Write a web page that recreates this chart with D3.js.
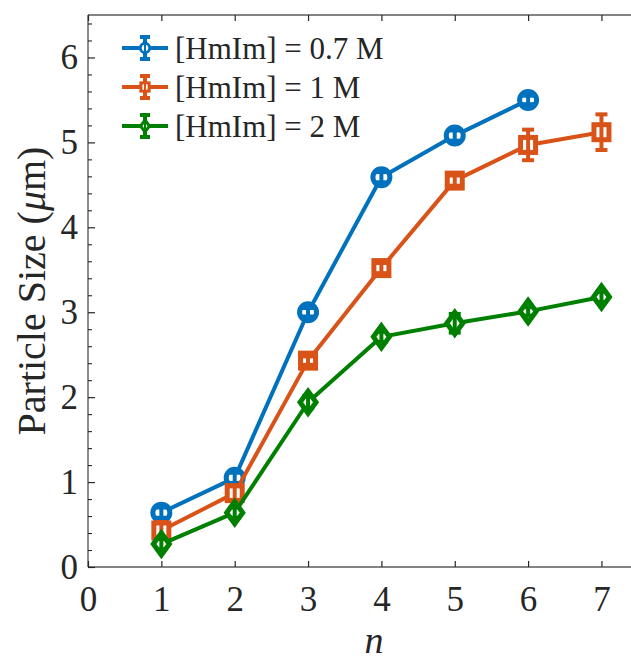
<!DOCTYPE html>
<html>
<head>
<meta charset="utf-8">
<script src="https://cdn.jsdelivr.net/npm/d3@7"></script>
<style>
  html, body { margin: 0; padding: 0; background: #fff; }
  svg { display: block; }
  svg text { font-family: "Liberation Serif", "Tinos", "Nimbus Roman", "DejaVu Serif", serif; fill: #262626; }
</style>
</head>
<body>
<svg id="chart" width="631" height="662"></svg>
<script>
// Particle size vs n for three HmIm concentrations
const nValues = [1, 2, 3, 4, 5, 6, 7];
const seriesNames = ["[HmIm] = 0.7 M", "[HmIm] = 1 M", "[HmIm] = 2 M"];
const size07 = [0.64, 1.05, 3.00, 4.59, 5.08, 5.50];
const err07  = [0.06, 0.06, 0.05, 0.06, 0.06, 0.05];
const size1  = [0.43, 0.87, 2.43, 3.52, 4.55, 4.97, 5.12];
const err1   = [0.10, 0.08, 0.05, 0.06, 0.06, 0.18, 0.21];
const size2  = [0.27, 0.64, 1.94, 2.71, 2.87, 3.01, 3.18];
const err2   = [0.06, 0.06, 0.07, 0.06, 0.11, 0.05, 0.06];
const xTicks = [0, 1, 2, 3, 4, 5, 6, 7];
const yTicks = [0, 1, 2, 3, 4, 5, 6];
const seriesColors = ["#0072BD", "#D95319", "#008000"];
const seriesMarkers = ["circle", "square", "diamond"];

const series = [
  { name: seriesNames[0], y: size07, e: err07 },
  { name: seriesNames[1], y: size1, e: err1 },
  { name: seriesNames[2], y: size2, e: err2 }
].map((s, i) => ({
  ...s,
  color: seriesColors[i],
  marker: seriesMarkers[i],
  pts: s.y.map((v, j) => ({ x: nValues[j], y: v, e: s.e[j] }))
}));

const FONT = "'Liberation Serif', Tinos, 'Nimbus Roman', 'DejaVu Serif', serif";
const svg = d3.select("#chart");
const plotLeft = 88, plotTop = 15, plotBottom = 567;
const x = d3.scaleLinear().domain([0, 7.5]).range([plotLeft, plotLeft + 7.5 * 73.35]);
const y = d3.scaleLinear().domain([0, 6.5]).range([plotBottom, plotTop]);
const plotRight = x.range()[1];

const axisColor = "#5a5a5a";

// Frame lines (left, bottom, top; right edge lies beyond the canvas)
const frame = svg.append("g").attr("stroke", axisColor).attr("stroke-width", 1.4).attr("fill", "none");
frame.append("line").attr("x1", plotLeft).attr("x2", plotRight).attr("y1", plotBottom).attr("y2", plotBottom);
frame.append("line").attr("x1", plotLeft).attr("x2", plotRight).attr("y1", plotTop).attr("y2", plotTop);
frame.append("line").attr("x1", plotLeft).attr("x2", plotLeft).attr("y1", plotTop).attr("y2", plotBottom);

// Bottom axis
const xAxis = svg.append("g").attr("transform", `translate(0,${plotBottom})`)
  .call(d3.axisBottom(x).tickValues(xTicks).tickFormat(d3.format("d")).tickSizeInner(-6).tickSizeOuter(0).tickPadding(19));
xAxis.attr("font-family", FONT);
xAxis.select(".domain").remove();
xAxis.selectAll(".tick line").attr("stroke", "#262626").attr("stroke-width", 1.2);
xAxis.selectAll("text").attr("font-size", 35).attr("fill", "#262626");

// Top axis ticks
const xTopAxis = svg.append("g").attr("transform", `translate(0,${plotTop})`)
  .call(d3.axisTop(x).tickValues(xTicks).tickFormat("").tickSizeInner(-6).tickSizeOuter(0));
xTopAxis.select(".domain").remove();
xTopAxis.selectAll(".tick line").attr("stroke", "#262626").attr("stroke-width", 1.2);

// Left axis with minor ticks
const yMinor = d3.range(0, 6.41, 0.2).filter(v => Math.abs(v - Math.round(v)) > 1e-6);
const yMin = svg.append("g").attr("transform", `translate(${plotLeft},0)`)
  .call(d3.axisLeft(y).tickValues(yMinor).tickFormat("").tickSizeInner(-4).tickSizeOuter(0));
yMin.select(".domain").remove();
yMin.selectAll(".tick line").attr("stroke", "#262626").attr("stroke-width", 1.1);

const yAxis = svg.append("g").attr("transform", `translate(${plotLeft},0)`)
  .call(d3.axisLeft(y).tickValues(yTicks).tickFormat(d3.format("d")).tickSizeInner(-7).tickSizeOuter(0).tickPadding(10));
yAxis.attr("font-family", FONT);
yAxis.select(".domain").remove();
yAxis.selectAll(".tick line").attr("stroke", "#262626").attr("stroke-width", 1.2);
yAxis.selectAll("text").attr("font-size", 35).attr("fill", "#262626");

// Axis labels
svg.append("text")
  .attr("x", x(3.9)).attr("y", 653)
  .attr("text-anchor", "middle")
  .attr("font-family", FONT)
  .attr("font-size", 38).attr("font-style", "italic")
  .text("n");

const yl = svg.append("text")
  .attr("transform", `translate(45,${(plotTop + plotBottom) / 2}) rotate(-90)`)
  .attr("text-anchor", "middle")
  .attr("font-family", FONT)
  .attr("font-size", 40);
yl.append("tspan").text("Particle Size (");
yl.append("tspan").attr("font-style", "italic").text("\u03bc");
yl.append("tspan").text("m)");

// Marker shapes
const markerSize = { circle: 8.5, square: 7.5, diamond: 10 };
function drawMarker(g, type, cx, cy, color, scale = 1, sw = 5) {
  const r = markerSize[type] * scale;
  let m;
  if (type === "circle") {
    m = g.append("circle").attr("cx", cx).attr("cy", cy).attr("r", r);
  } else if (type === "square") {
    m = g.append("rect").attr("x", cx - r).attr("y", cy - r).attr("width", 2 * r).attr("height", 2 * r);
  } else {
    const w = r * 0.8, h = r * 1.1;
    m = g.append("path").attr("d", `M${cx},${cy - h}L${cx + w},${cy}L${cx},${cy + h}L${cx - w},${cy}Z`);
  }
  m.attr("fill", "#fff").attr("stroke", color).attr("stroke-width", sw);
}

function drawErrorBar(g, cx, yLo, yHi, color, cap = 6) {
  g.append("line").attr("x1", cx).attr("x2", cx).attr("y1", yLo).attr("y2", yHi)
    .attr("stroke", color).attr("stroke-width", 4);
  [yLo, yHi].forEach(yy => g.append("line")
    .attr("x1", cx - cap).attr("x2", cx + cap).attr("y1", yy).attr("y2", yy)
    .attr("stroke", color).attr("stroke-width", 4));
}

const line = d3.line().x(d => x(d.x)).y(d => y(d.y));
const plot = svg.append("g");

series.forEach(s => {
  const g = plot.append("g");
  g.append("path").datum(s.pts).attr("d", line)
    .attr("fill", "none").attr("stroke", s.color).attr("stroke-width", 4)
    .attr("stroke-linejoin", "round");
  s.pts.forEach(p => drawMarker(g, s.marker, x(p.x), y(p.y), s.color));
  s.pts.forEach(p => drawErrorBar(g, x(p.x), y(p.y - p.e), y(p.y + p.e), s.color));
});

// Legend
const legend = svg.append("g");
series.forEach((s, i) => {
  const ly = 48 + i * 39;
  const g = legend.append("g");
  g.append("line").attr("x1", 122).attr("x2", 168).attr("y1", ly).attr("y2", ly)
    .attr("stroke", s.color).attr("stroke-width", 4);
  drawErrorBar(g, 145, ly + 11, ly - 11, s.color, 5);
  drawMarker(g, s.marker, 145, ly, s.color, 0.55, 3);
  g.append("line").attr("x1", 145).attr("x2", 145).attr("y1", ly - 11).attr("y2", ly + 11)
    .attr("stroke", s.color).attr("stroke-width", 2);
  g.append("text").attr("x", 175).attr("y", ly + 11)
    .attr("font-family", FONT)
    .attr("font-size", 31).attr("fill", "#000")
    .text(s.name);
});
</script>
</body>
</html>
